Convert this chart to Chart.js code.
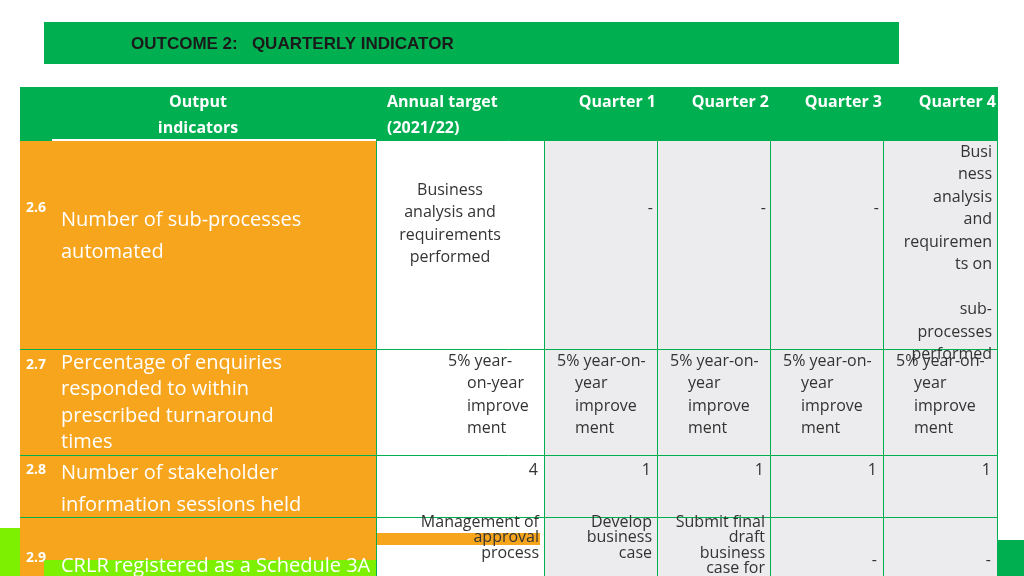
<!DOCTYPE html>
<html><head><meta charset="utf-8">
<script src="https://cdn.jsdelivr.net/npm/chart.js@4"></script>
<style>html,body{margin:0;padding:0;background:#fff}canvas{display:block}</style>
</head><body>
<canvas id="c" width="1024" height="576"></canvas>
<script>
const title = "OUTCOME 2:   QUARTERLY INDICATOR";
const headers = ["Output\nindicators", "Annual target\n(2021/22)", "Quarter 1", "Quarter 2", "Quarter 3", "Quarter 4"];
const rowNumbers = ["2.6", "2.7", "2.8", "2.9"];
const indicators = ["Number of sub-processes\nautomated", "Percentage of enquiries\nresponded to within\nprescribed turnaround\ntimes", "Number of stakeholder\ninformation sessions held", "CRLR registered as a Schedule 3A"];
const annualTargets = ["Business\nanalysis and\nrequirements\nperformed", "5% year-\non-year\nimprove\nment", "4", "Management of\napproval\nprocess"];
const quarter1 = ["-", "5% year-on-\nyear\nimprove\nment", "1", "Develop\nbusiness\ncase"];
const quarter2 = ["-", "5% year-on-\nyear\nimprove\nment", "1", "Submit final\ndraft\nbusiness\ncase for"];
const quarter3 = ["-", "5% year-on-\nyear\nimprove\nment", "1", "-"];
const quarter4 = ["Busi\nness\nanalysis\nand\nrequiremen\nts on\n \nsub-\nprocesses\nperformed", "5% year-on-\nyear\nimprove\nment", "1", "-"];

// layout (pixel units of the hidden linear scales)
const colX = [20, 376, 544, 657, 770, 883, 997];
const rowY = [87, 140, 349, 455, 517, 600];
const GREEN = "#00b050", ORANGE = "#f7a51d", GRAY = "#ececee";

const tablePlugin = {
  id: "table",
  beforeDatasetsDraw(chart) {
    const ctx = chart.ctx, xs = chart.scales.x, ys = chart.scales.y;
    const X = v => xs.getPixelForValue(v), Y = v => ys.getPixelForValue(v);
    ctx.save();
    // decorations bottom
    ctx.fillStyle = "#7cf000"; ctx.fillRect(X(0), Y(528), X(44), Y(576) - Y(528));
    ctx.fillRect(X(0), Y(560), X(1024), Y(576) - Y(560));
    ctx.fillStyle = GREEN; ctx.fillRect(X(990), Y(540), X(1024)-X(990), Y(576)-Y(540));
    // title banner
    ctx.fillStyle = GREEN; ctx.fillRect(X(44), Y(22), X(899) - X(44), Y(64) - Y(22));
    ctx.fillStyle = "#1a1a1a"; ctx.font = "bold 17px 'Liberation Sans', Arial"; ctx.textBaseline = "middle";
    ctx.fillText(title, X(131), Y(44));
    // header row
    ctx.fillStyle = GREEN; ctx.fillRect(X(colX[0]), Y(rowY[0]), X(colX[6]) - X(colX[0]), Y(rowY[1]) - Y(rowY[0]));
    // body cells
    const cols = [annualTargets, quarter1, quarter2, quarter3, quarter4];
    for (let r = 0; r < rowNumbers.length; r++) {
      const y0 = Y(rowY[r + 1]), y1 = Y(Math.min(rowY[r + 2], 576));
      ctx.fillStyle = ORANGE; ctx.fillRect(X(colX[0]), y0, X(colX[1]) - X(colX[0]), y1 - y0);
      for (let c = 0; c < 5; c++) {
        ctx.fillStyle = c === 0 ? "#ffffff" : GRAY;
        ctx.fillRect(X(colX[c + 1]), y0, X(colX[c + 2]) - X(colX[c + 1]), y1 - y0);
      }
    }
    ctx.fillStyle = ORANGE; ctx.fillRect(X(376), Y(533), X(540) - X(376), 12);
    ctx.fillStyle = "#7cf000"; ctx.fillRect(X(44), Y(560), X(376)-X(44), Y(576)-Y(560));
    // grid lines
    ctx.strokeStyle = GREEN; ctx.lineWidth = 1;
    for (let i = 1; i < colX.length; i++) { ctx.beginPath(); ctx.moveTo(X(colX[i]) + .5, Y(rowY[0])); ctx.lineTo(X(colX[i]) + .5, Y(576)); ctx.stroke(); }
    for (let j = 1; j < rowY.length - 1; j++) { ctx.beginPath(); ctx.moveTo(X(colX[0]), Y(rowY[j]) + .5); ctx.lineTo(X(colX[6]), Y(rowY[j]) + .5); ctx.stroke(); }
    ctx.strokeStyle = "#ffffff"; ctx.lineWidth = 2;
    ctx.beginPath(); ctx.moveTo(X(52), Y(140)); ctx.lineTo(X(376), Y(140)); ctx.stroke();
    // header text
    ctx.fillStyle = "#ffffff"; ctx.font = "bold 16px 'Open Sans'"; ctx.textBaseline = "middle";
    ctx.textAlign = "center";
    headers[0].split("\n").forEach((l, i) => ctx.fillText(l, X(198), Y(102 + i * 26)));
    ctx.textAlign = "left";
    headers[1].split("\n").forEach((l, i) => ctx.fillText(l, X(387), Y(102 + i * 26)));
    ctx.textAlign = "right";
    for (let c = 2; c < 6; c++) ctx.fillText(headers[c], X(colX[c + 1]) - 1, Y(102));
    // body text
    const numY = [208, 365, 470, 558], indY = [220, 363, 473, 566], indLH = [32, 26.5, 32, 26];
    for (let r = 0; r < rowNumbers.length; r++) {
      ctx.fillStyle = "#ffffff"; ctx.textAlign = "left";
      ctx.font = "bold 14px 'Open Sans'"; ctx.fillText(rowNumbers[r], X(26), Y(numY[r]));
      ctx.font = "20px 'Open Sans'";
      indicators[r].split("\n").forEach((l, i) => ctx.fillText(l, X(61), Y(indY[r] + i * indLH[r])));
    }
    ctx.fillStyle = "#333333"; ctx.font = "16px 'Open Sans'";
    // row 2.6
    ctx.textAlign = "center";
    annualTargets[0].split("\n").forEach((l, i) => ctx.fillText(l, X(450), Y(190 + i * 22.5)));
    ctx.textAlign = "right";
    [quarter1, quarter2, quarter3].forEach((q, k) => ctx.fillText(q[0], X(colX[k + 3]) - 4, Y(208)));
    quarter4[0].split("\n").forEach((l, i) => ctx.fillText(l, X(992), Y(152 + i * 22.5)));
    // row 2.7
    ctx.textAlign = "left";
    annualTargets[1].split("\n").forEach((l, i) => ctx.fillText(l, X(i === 0 ? 448 : 467), Y(361 + i * 22.5)));
    [quarter1, quarter2, quarter3, quarter4].forEach((q, k) => q[1].split("\n").forEach((l, i) =>
      ctx.fillText(l, X(colX[k + 2] + (i === 0 ? 13 : 31)), Y(361 + i * 22.5))));
    // row 2.8
    ctx.textAlign = "right";
    [annualTargets, quarter1, quarter2, quarter3, quarter4].forEach((q, k) => ctx.fillText(q[2], X(colX[k + 2]) - 6, Y(470)));
    // row 2.9
    ctx.font = "16px 'Open Sans'";
    [annualTargets, quarter1, quarter2].forEach((q, k) => q[3].split("\n").forEach((l, i) =>
      ctx.fillText(l, X(colX[k + 2]) - 5, Y(522 + i * 15.5))));
    [quarter3, quarter4].forEach((q, k) => ctx.fillText(q[3], X(colX[k + 5]) - 6, Y(560)));
    ctx.restore();
  }
};

new Chart(document.getElementById("c"), {
  type: "scatter",
  data: { datasets: [{ data: [], pointRadius: 0 }] },
  options: {
    responsive: false, animation: false,
    layout: { padding: 0 },
    plugins: { legend: { display: false }, tooltip: { enabled: false } },
    scales: {
      x: { type: "linear", min: 0, max: 1024, display: false },
      y: { type: "linear", min: 0, max: 576, reverse: true, display: false }
    }
  },
  plugins: [tablePlugin]
});
</script>
</body></html>
